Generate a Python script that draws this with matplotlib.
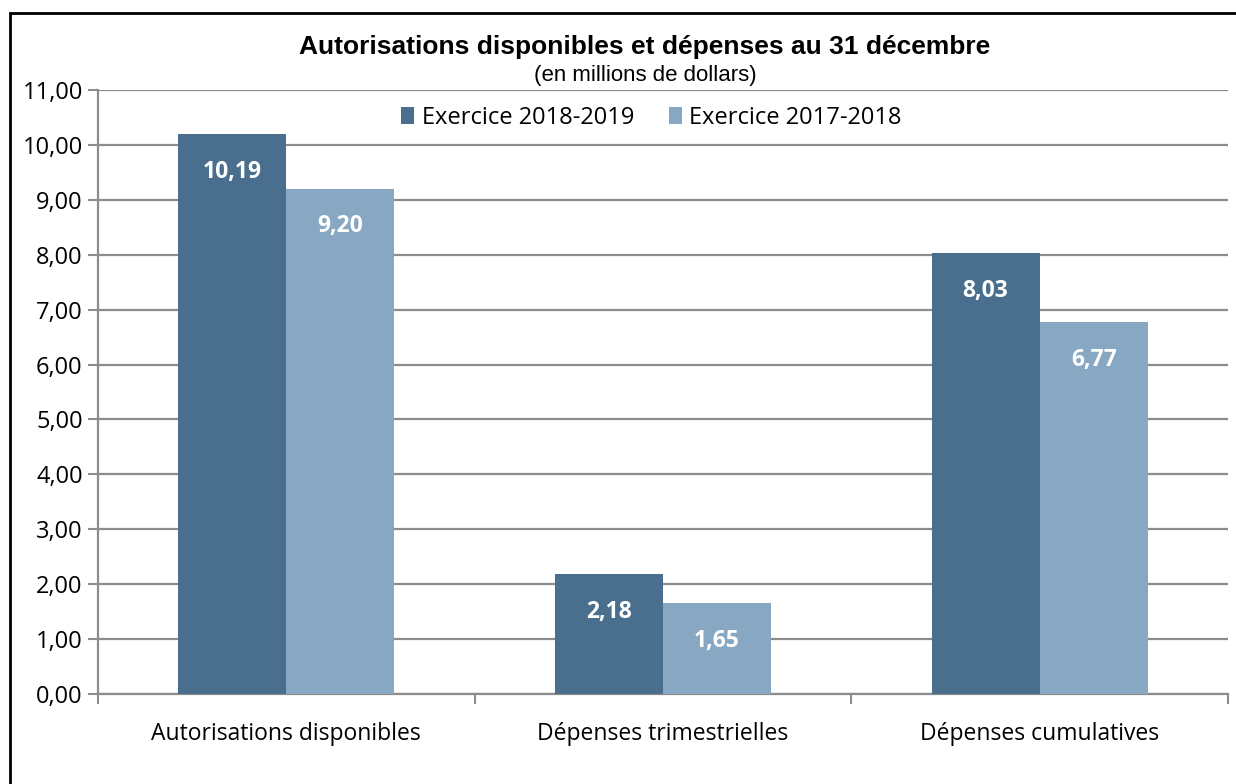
import numpy as np
import matplotlib
matplotlib.use('Agg')
import matplotlib.pyplot as plt
from matplotlib.lines import Line2D

categories = ["Autorisations disponibles", "Dépenses trimestrielles", "Dépenses cumulatives"]
series_names = ["Exercice 2018-2019", "Exercice 2017-2018"]
values_2018_2019 = [10.19, 2.18, 8.03]
values_2017_2018 = [9.20, 1.65, 6.77]
yticks = [0, 1, 2, 3, 4, 5, 6, 7, 8, 9, 10, 11]

dark = '#4a6f8e'
light = '#88a7c3'
grid_col = '#8c8c8c'

W, H = 1236, 784
fig = plt.figure(figsize=(W / 100, H / 100), dpi=100)
# outer frame: only the top and left edges show in the reference
fx, fy = 10 / W, 1 - 13 / H
fig.add_artist(Line2D([fx, fx, 1.02], [-0.02, fy, fy], transform=fig.transFigure,
                      color='black', lw=2, solid_joinstyle='miter'))

ax = fig.add_axes([98 / W, 1 - 694 / H, (1228 - 98) / W, (694 - 90) / H])

x = np.arange(len(categories))
w = 0.287
b1 = ax.bar(x - w / 2, values_2018_2019, w, color=dark, label=series_names[0], zorder=3)
b2 = ax.bar(x + w / 2, values_2017_2018, w, color=light, label=series_names[1], zorder=3)

for bars, vals in ((b1, values_2018_2019), (b2, values_2017_2018)):
    for rect, v in zip(bars, vals):
        ax.annotate(f"{v:.2f}".replace('.', ','),
                    (rect.get_x() + rect.get_width() / 2, v),
                    xytext=(0, -27), textcoords='offset points',
                    ha='center', va='center', color='white',
                    fontsize=16.5, fontweight='bold', family='Open Sans', zorder=4)

ax.set_xlim(-0.5, 2.5)
ax.set_ylim(0, 11)
ax.set_yticks(yticks)
ax.set_yticklabels([f"{t:.2f}".replace('.', ',') for t in yticks],
                   fontsize=17, family='Open Sans')
ax.set_xticks(x)
ax.set_xticklabels(categories, fontsize=16.5, family='Open Sans')
ax.tick_params(axis='x', length=0, pad=20)
ax.set_xticks([-0.5, 0.5, 1.5, 2.5], minor=True)
ax.tick_params(axis='x', which='minor', length=7, width=1.5, color=grid_col)
ax.tick_params(axis='y', length=7, width=1.5, color=grid_col, pad=4)

ax.yaxis.grid(True, color=grid_col, linewidth=1.6, zorder=0)
for s in ('top', 'right'):
    ax.spines[s].set_visible(False)
for s in ('left', 'bottom'):
    ax.spines[s].set_color(grid_col)
    ax.spines[s].set_linewidth(1.6)

ax.legend(loc='center', bbox_to_anchor=(0.49, 1 - 28 / 604), ncol=2, frameon=False,
          handlelength=0.55, handleheight=0.75, handletextpad=0.3, columnspacing=1.5,
          prop={'family': 'Open Sans', 'size': 17})

fig.text(645 / W, 1 - 47 / H, "Autorisations disponibles et dépenses au 31 décembre",
         ha='center', va='center', fontsize=19, fontweight='bold', family='Liberation Sans')
fig.text(645 / W, 1 - 75 / H, "(en millions de dollars)",
         ha='center', va='center', fontsize=16, family='Liberation Sans')

fig.savefig('out.png', dpi=100)
